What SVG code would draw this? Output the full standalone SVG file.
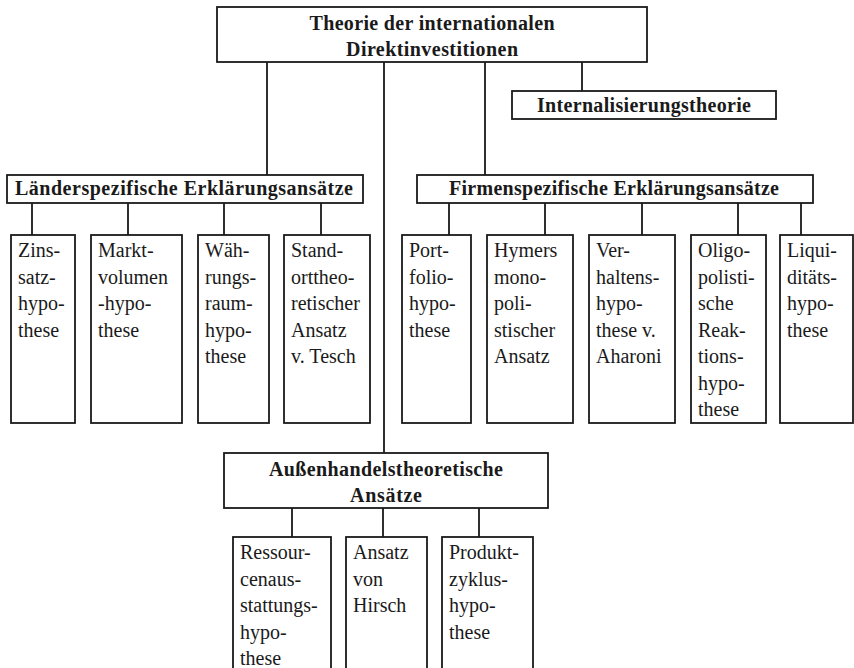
<svg xmlns="http://www.w3.org/2000/svg" width="854" height="668" viewBox="0 0 854 668">
<style>
.box{fill:#fff;stroke:#1a1a1a;stroke-width:1.8}
.ln{stroke:#1a1a1a;stroke-width:1.8;fill:none}
.h{font-family:"Liberation Serif","Times New Roman",serif;font-weight:bold;font-size:20px;fill:#1a1a1a;text-anchor:middle}
.t{font-family:"Liberation Serif","Times New Roman",serif;font-size:20px;fill:#1a1a1a}
</style>
<rect width="854" height="668" fill="#fff"/>
<g id="connectors">
<path class="ln" d="M267 62V175M384 62V453M485 62V175M582 62V91"/>
<path class="ln" d="M32 203V235M128 203V235M224 203V235M321 203V235"/>
<path class="ln" d="M449 203V235M545 203V235M642 203V235M738 203V235M801 203V235"/>
<path class="ln" d="M292 508V537M383 508V537M479 508V537"/>
</g>
<g id="root">
<rect class="box" x="217" y="7" width="430" height="55"/>
<text class="h" x="432" y="30" textLength="245">Theorie der internationalen</text>
<text class="h" x="432" y="56" textLength="172">Direktinvestitionen</text>
</g>
<g id="internalisierung">
<rect class="box" x="512" y="91" width="264" height="28"/>
<text class="h" x="644" y="112" textLength="214">Internalisierungstheorie</text>
</g>
<g id="laender">
<rect class="box" x="7" y="175" width="356" height="28"/>
<text class="h" x="184" y="195" textLength="338">Länderspezifische Erklärungsansätze</text>
</g>
<g id="firmen">
<rect class="box" x="417" y="175" width="396" height="28"/>
<text class="h" x="614" y="195" textLength="330">Firmenspezifische Erklärungsansätze</text>
</g>
<g id="aussenhandel">
<rect class="box" x="224" y="453" width="324" height="55"/>
<text class="h" x="386" y="476" textLength="234">Außenhandelstheoretische</text>
<text class="h" x="386" y="502" textLength="72">Ansätze</text>
</g>
<g id="zins">
<rect class="box" x="11" y="235" width="64" height="188"/>
<text class="t" x="18" y="257">Zins-</text><text class="t" x="18" y="283.5">satz-</text><text class="t" x="18" y="310">hypo-</text><text class="t" x="18" y="336.5">these</text>
</g>
<g id="markt">
<rect class="box" x="91" y="235" width="91" height="188"/>
<text class="t" x="98" y="257">Markt-</text><text class="t" x="98" y="283.5">volumen</text><text class="t" x="98" y="310">-hypo-</text><text class="t" x="98" y="336.5">these</text>
</g>
<g id="waehrung">
<rect class="box" x="198" y="235" width="71" height="188"/>
<text class="t" x="205" y="257">Wäh-</text><text class="t" x="205" y="283.5">rungs-</text><text class="t" x="205" y="310">raum-</text><text class="t" x="205" y="336.5">hypo-</text><text class="t" x="205" y="363">these</text>
</g>
<g id="standort">
<rect class="box" x="284" y="235" width="86" height="188"/>
<text class="t" x="291" y="257">Stand-</text><text class="t" x="291" y="283.5">orttheo-</text><text class="t" x="291" y="310">retischer</text><text class="t" x="291" y="336.5">Ansatz</text><text class="t" x="291" y="363">v. Tesch</text>
</g>
<g id="portfolio">
<rect class="box" x="402" y="235" width="69" height="188"/>
<text class="t" x="409" y="257">Port-</text><text class="t" x="409" y="283.5">folio-</text><text class="t" x="409" y="310">hypo-</text><text class="t" x="409" y="336.5">these</text>
</g>
<g id="hymer">
<rect class="box" x="487" y="235" width="86" height="188"/>
<text class="t" x="494" y="257">Hymers</text><text class="t" x="494" y="283.5">mono-</text><text class="t" x="494" y="310">poli-</text><text class="t" x="494" y="336.5">stischer</text><text class="t" x="494" y="363">Ansatz</text>
</g>
<g id="verhalten">
<rect class="box" x="589" y="235" width="86" height="188"/>
<text class="t" x="596" y="257">Ver-</text><text class="t" x="596" y="283.5">haltens-</text><text class="t" x="596" y="310">hypo-</text><text class="t" x="596" y="336.5">these v.</text><text class="t" x="596" y="363">Aharoni</text>
</g>
<g id="oligo">
<rect class="box" x="691" y="235" width="75" height="188"/>
<text class="t" x="698" y="257">Oligo-</text><text class="t" x="698" y="283.5">polisti-</text><text class="t" x="698" y="310">sche</text><text class="t" x="698" y="336.5">Reak-</text><text class="t" x="698" y="363">tions-</text><text class="t" x="698" y="389.5">hypo-</text><text class="t" x="698" y="416">these</text>
</g>
<g id="liquiditaet">
<rect class="box" x="780" y="235" width="73" height="188"/>
<text class="t" x="787" y="257">Liqui-</text><text class="t" x="787" y="283.5">ditäts-</text><text class="t" x="787" y="310">hypo-</text><text class="t" x="787" y="336.5">these</text>
</g>
<g id="ressourcen">
<rect class="box" x="233" y="537" width="98" height="140"/>
<text class="t" x="240" y="559">Ressour-</text><text class="t" x="240" y="585.5">cenaus-</text><text class="t" x="240" y="612">stattungs-</text><text class="t" x="240" y="638.5">hypo-</text><text class="t" x="240" y="665">these</text>
</g>
<g id="hirsch">
<rect class="box" x="346" y="537" width="81" height="140"/>
<text class="t" x="353" y="559">Ansatz</text><text class="t" x="353" y="585.5">von</text><text class="t" x="353" y="612">Hirsch</text>
</g>
<g id="produktzyklus">
<rect class="box" x="442" y="537" width="91" height="140"/>
<text class="t" x="449" y="559">Produkt-</text><text class="t" x="449" y="585.5">zyklus-</text><text class="t" x="449" y="612">hypo-</text><text class="t" x="449" y="638.5">these</text>
</g>
</svg>
